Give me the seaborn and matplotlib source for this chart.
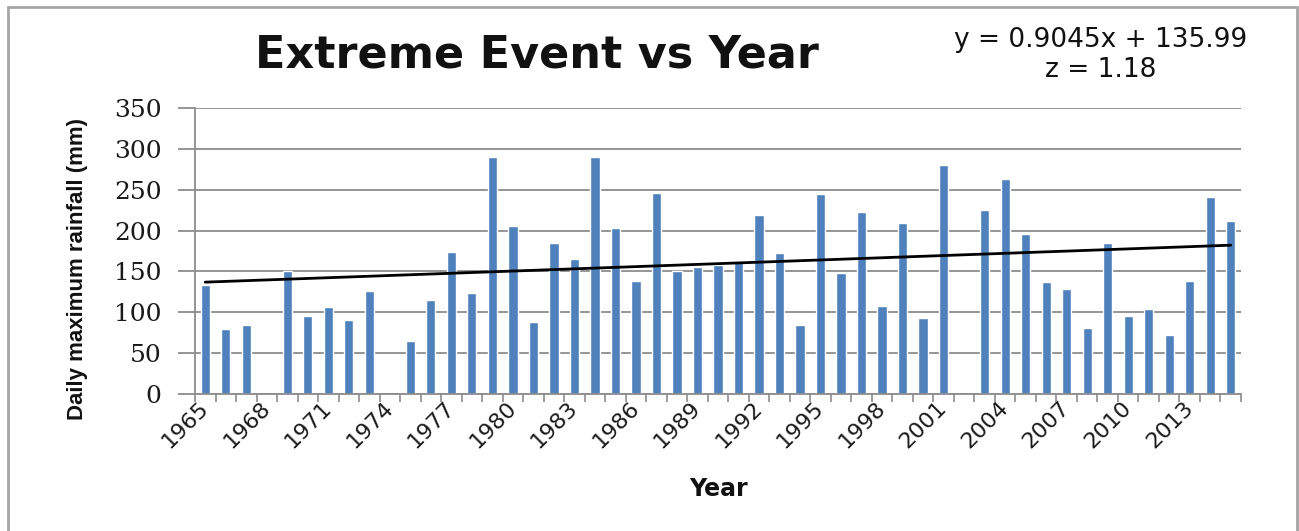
import numpy as np
import pandas as pd
import matplotlib
matplotlib.use("Agg")
import matplotlib.pyplot as plt
from matplotlib.patches import Rectangle
from matplotlib.ticker import FixedLocator
import seaborn as sns

# Annual daily-maximum rainfall (mm); blank years have no record
years = list(range(1965, 2016))
rainfall = [133, 80, 85, np.nan, 150, 95, 106, 90, 126, np.nan,
            65, 115, 174, 124, 290, 205, 88, 185, 165, 290,
            203, 138, 246, 151, 156, 158, 163, 219, 172, 84,
            245, 148, 223, 108, 209, 93, 280, np.nan, 225, 263,
            196, 137, 129, 81, 185, 95, 104, 72, 138, 241, 212]

# Linear trend fitted against the series index (1..n)
slope = 0.9045
intercept = 135.99
z_stat = 1.18

y_ticks = [0, 50, 100, 150, 200, 250, 300, 350]

sns.set_theme(style="white")

df = pd.DataFrame({"Year": [str(y) for y in years], "Rainfall": rainfall})
order = df["Year"].tolist()

W, H = 1299, 531
fig = plt.figure(figsize=(W / 100, H / 100), dpi=100)
fig.patch.set_facecolor("white")
ax = fig.add_axes([195 / W, 1 - 394 / H, (1241 - 195) / W, (394 - 108) / H])

sns.barplot(data=df, x="Year", y="Rainfall", order=order, color="#4F81BD",
            saturation=1, width=0.45, ax=ax, errorbar=None)

# Trend line across the bar centres
idx = np.arange(len(years))
trend = slope * (idx + 1) + intercept
sns.lineplot(x=idx, y=trend, color="black", linewidth=2, ax=ax)

ax.set_xlim(-0.5, len(years) - 0.5)
ax.set_ylim(0, 350)
ax.set_yticks(y_ticks)
ax.set_yticklabels([str(v) for v in y_ticks],
                   fontfamily="DejaVu Serif", fontweight="normal",
                   fontsize=18, color="#1a1a1a")
ax.yaxis.grid(True, color="#8c8c8c", linewidth=1.3)
ax.set_axisbelow(True)

# Year labels every third year; tick marks sit between categories
label_pos = idx[::3]
ax.xaxis.set_major_locator(FixedLocator(label_pos))
ax.set_xticklabels([str(years[i]) for i in label_pos], rotation=45,
                   ha="right", va="center", rotation_mode="anchor",
                   fontfamily="DejaVu Sans", fontsize=16, color="#1a1a1a")
ax.xaxis.set_minor_locator(FixedLocator(np.arange(-0.5, len(years), 1.0)))
ax.tick_params(axis="x", which="major", length=0, pad=8)
ax.tick_params(axis="x", which="minor", length=6, width=1.2,
               color="#8c8c8c", direction="out", bottom=True)
ax.tick_params(axis="y", which="major", length=12, width=1.3,
               color="#8c8c8c", direction="out", left=True, pad=12)

for side in ("top", "right"):
    ax.spines[side].set_visible(False)
for side in ("left", "bottom"):
    ax.spines[side].set_color("#8c8c8c")
    ax.spines[side].set_linewidth(1.3)

ax.set_xlabel("")
ax.set_ylabel("")

fig.text(78 / W, 1 - 269 / H, "Daily maximum rainfall (mm)", rotation=90,
         ha="center", va="center", fontsize=16, fontweight="bold",
         family="Liberation Sans", color="#111111")
fig.text(718 / W, 1 - 489 / H, "Year", ha="center", va="center",
         fontsize=17, fontweight="bold", family="DejaVu Sans", color="#111111")
fig.text(537 / W, 1 - 55 / H, "Extreme Event vs Year", ha="center",
         va="center", fontsize=32, fontweight="bold",
         family="DejaVu Sans", color="#111111")
fig.text(1101 / W, 1 - 40 / H, f"y = {slope}x + {intercept}", ha="center",
         va="center", fontsize=19, family="DejaVu Sans", color="#111111")
fig.text(1101 / W, 1 - 70 / H, f"z = {z_stat}", ha="center", va="center",
         fontsize=19, family="DejaVu Sans", color="#111111")

# Chart frame
fig.patches.append(Rectangle((8 / W, -0.02), (1297 - 8) / W, 1.02 - 7 / H,
                             transform=fig.transFigure, fill=False,
                             edgecolor="#a6a6a6", linewidth=2))

fig.savefig("out.png", dpi=100, facecolor="white")
